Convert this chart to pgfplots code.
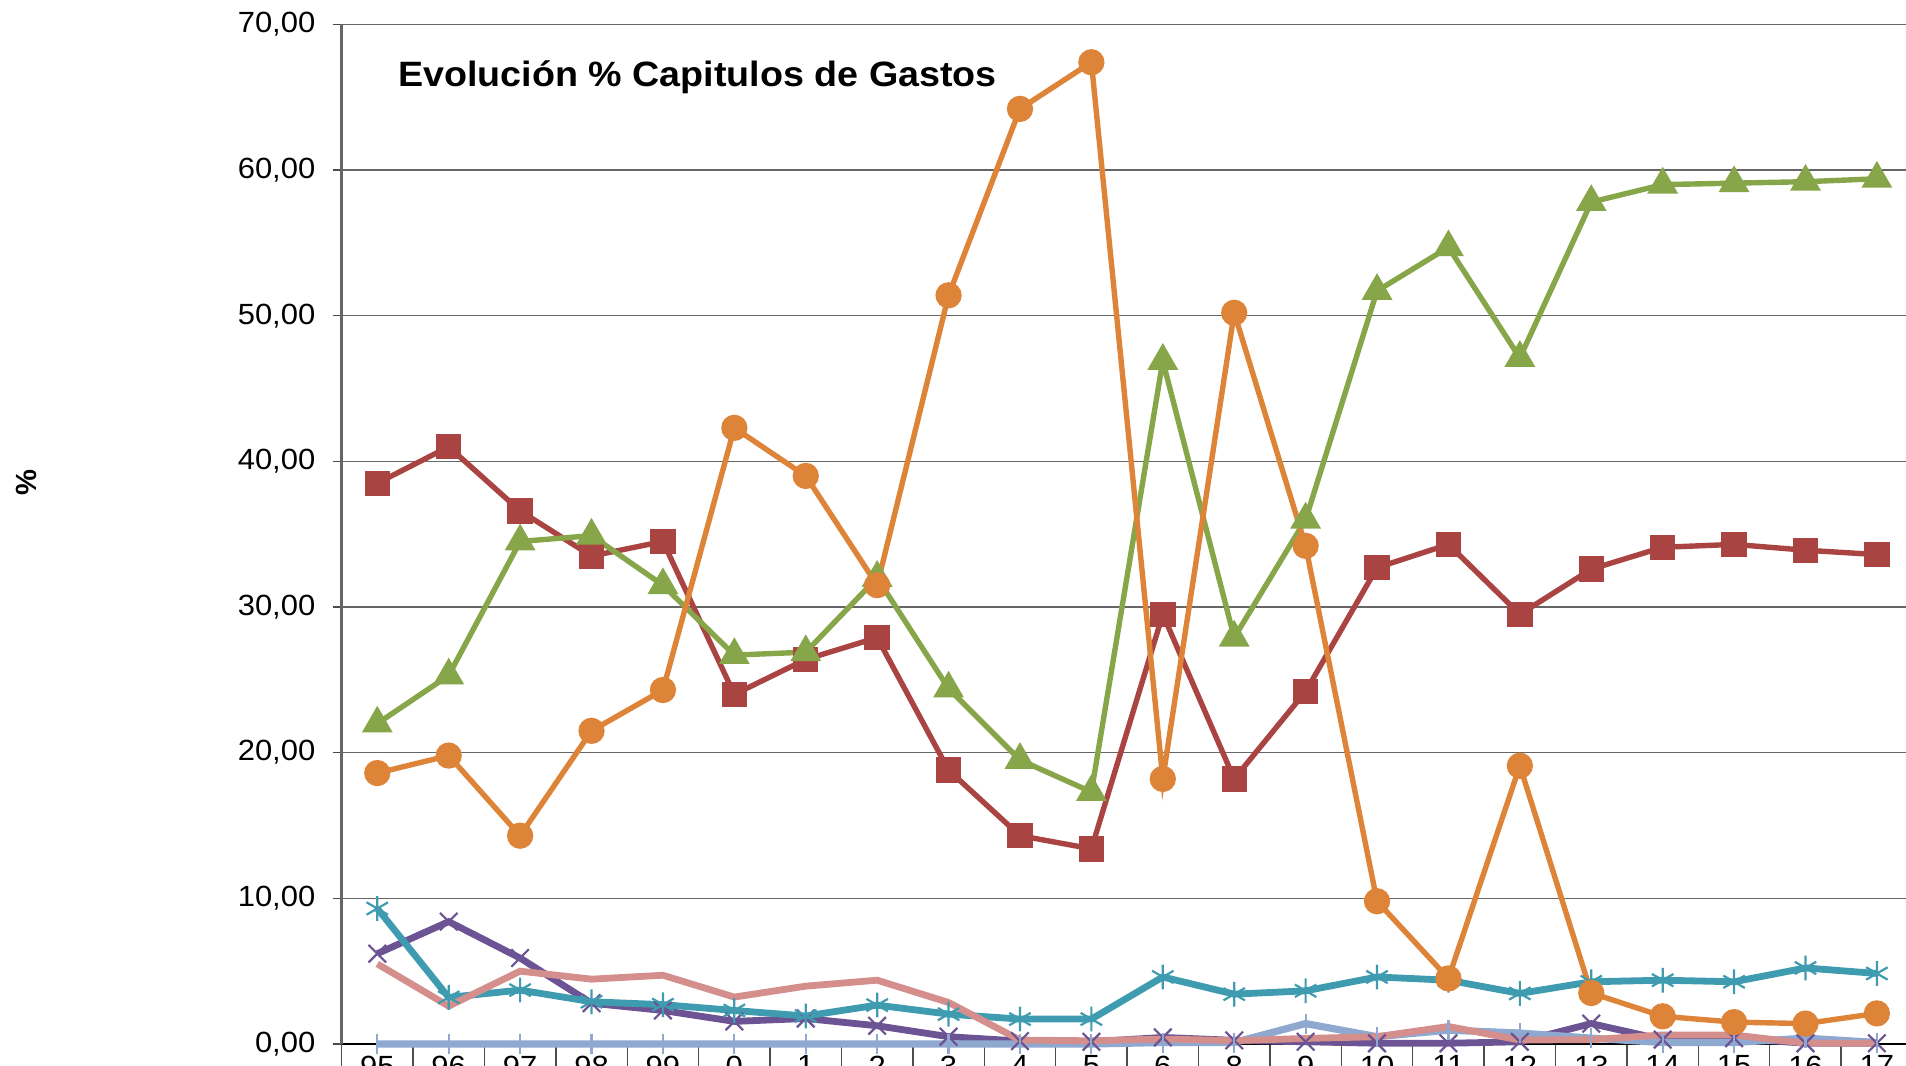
\documentclass[border=0pt]{standalone}
\usepackage{fontspec}
\setmainfont{Liberation Sans}
\newfontfamily\tickfont[FakeStretch=1.06]{Liberation Sans}
\newfontfamily\titlefont[FakeStretch=1.07]{Liberation Sans}
\usepackage{pgfplots}
\pgfplotsset{compat=1.18}
\definecolor{cOrange}{HTML}{DE8439}
\definecolor{cRed}{HTML}{A94442}
\definecolor{cGreen}{HTML}{87A64A}
\definecolor{cPurple}{HTML}{6B5394}
\definecolor{cTeal}{HTML}{3F9BB0}
\definecolor{cPink}{HTML}{D48E8C}
\definecolor{cLBlue}{HTML}{8EA8D0}
\begin{document}
\begin{tikzpicture}
\clip (-85.4pt,-5.5pt) rectangle (391.1pt,261pt);
\begin{axis}[
  at={(0,0)}, anchor=south west,
  scale only axis, width=392.75pt, height=254.9pt,
  xmin=-0.5, xmax=21.5, ymin=0, ymax=70,
  ytick={0,10,...,70},
  xtick={0,...,21},
  xticklabels={95,96,97,98,99,0,1,2,3,4,5,6,8,9,10,11,12,13,14,15,16,17},
  minor xtick={-0.5,0.5,...,21.5},
  major x tick style={draw=none},
  minor tick length=14pt,
  major tick length=2.25pt,
  tick align=outside,
  tick style={black!70, line width=0.35pt},
  axis lines*=left,
  x axis line style={black, line width=0.45pt},
  y axis line style={black!60, line width=0.6pt},
  ymajorgrids,
  grid style={black!60, line width=0.35pt},
  ticklabel style={font=\fontsize{7.3}{8}\tickfont},
  xticklabel style={inner sep=0pt, yshift=-0.5pt},
  yticklabel style={xshift=-0.8pt, /pgf/number format/.cd, fixed, fixed zerofill, precision=2, use comma, assume math mode=true},
  ylabel={\textbf{\%}},
  ylabel style={at={(axis description cs:-0.2003,0.551)}, anchor=center, font=\fontsize{7.3}{8}\selectfont},
  clip=false,
]
% red squares
\addplot[cRed, line width=1.35pt, mark=square*, mark size=2.5pt, mark options={solid}] coordinates {
(0,38.5)(1,41.0)(2,36.6)(3,33.5)(4,34.5)(5,24.0)(6,26.4)(7,27.9)(8,18.8)(9,14.3)(10,13.4)
(11,29.5)(12,18.2)(13,24.2)(14,32.7)(15,34.3)(16,29.5)(17,32.6)(18,34.1)(19,34.3)(20,33.9)(21,33.6)};
% green triangles
\addplot[cGreen, line width=1.35pt, mark=triangle*, mark size=3.1pt, mark options={solid}] coordinates {
(0,22.0)(1,25.3)(2,34.5)(3,34.9)(4,31.5)(5,26.7)(6,26.9)(7,32.0)(8,24.4)(9,19.5)(10,17.3)
(11,46.9)(12,27.9)(13,36.0)(14,51.7)(15,54.7)(16,47.1)(17,57.8)(18,59.0)(19,59.1)(20,59.2)(21,59.4)};
% purple x
\addplot[cPurple, line width=1.7pt, mark=x, mark size=3.1pt, mark options={solid, line width=0.55pt}] coordinates {
(0,6.2)(1,8.4)(2,5.9)(3,2.8)(4,2.3)(5,1.55)(6,1.75)(7,1.25)(8,0.5)(9,0.2)(10,0.15)
(11,0.45)(12,0.25)(13,0.15)(14,0.05)(15,0.05)(16,0.15)(17,1.4)(18,0.3)(19,0.4)(20,0.05)(21,0.05)};
% teal asterisk
\addplot[cTeal, line width=1.7pt, mark=asterisk, mark size=3.1pt, mark options={solid, line width=0.55pt}] coordinates {
(0,9.3)(1,3.2)(2,3.7)(3,2.9)(4,2.7)(5,2.3)(6,1.92)(7,2.67)(8,2.05)(9,1.71)(10,1.71)
(11,4.6)(12,3.42)(13,3.65)(14,4.6)(15,4.38)(16,3.47)(17,4.27)(18,4.38)(19,4.27)(20,5.22)(21,4.84)};
% light blue plus
\addplot[cLBlue, line width=1.8pt, mark=|, mark size=2.5pt, mark options={solid, line width=0.55pt}] coordinates {
(0,0)(1,0)(2,0)(3,0)(4,0)(5,0)(6,0)(7,0)(8,0)(9,0)(10,0)
(11,0.1)(12,0.1)(13,1.4)(14,0.5)(15,0.95)(16,0.75)(17,0.4)(18,0.1)(19,0.1)(20,0.4)(21,0.1)};
% pink
\addplot[cPink, line width=1.7pt, no marks] coordinates {
(0,5.5)(1,2.6)(2,5.0)(3,4.45)(4,4.72)(5,3.22)(6,3.97)(7,4.38)(8,2.85)(9,0.27)(10,0.22)
(11,0.34)(12,0.23)(13,0.38)(14,0.5)(15,1.2)(16,0.27)(17,0.3)(18,0.62)(19,0.62)(20,0.05)(21,0.05)};
% orange circles
\addplot[cOrange, line width=1.35pt, mark=*, mark size=2.6pt, mark options={solid}] coordinates {
(0,18.6)(1,19.8)(2,14.3)(3,21.5)(4,24.3)(5,42.3)(6,39.0)(7,31.5)(8,51.4)(9,64.2)(10,67.4)
(11,18.2)(12,50.2)(13,34.2)(14,9.8)(15,4.5)(16,19.1)(17,3.5)(18,1.9)(19,1.5)(20,1.4)(21,2.1)};
\node[anchor=west, inner sep=0pt, font=\fontsize{8.8}{10}\titlefont\bfseries] at (axis description cs:0.0356,0.948) {Evolución \% Capitulos de Gastos};
\end{axis}
\end{tikzpicture}
\end{document}
